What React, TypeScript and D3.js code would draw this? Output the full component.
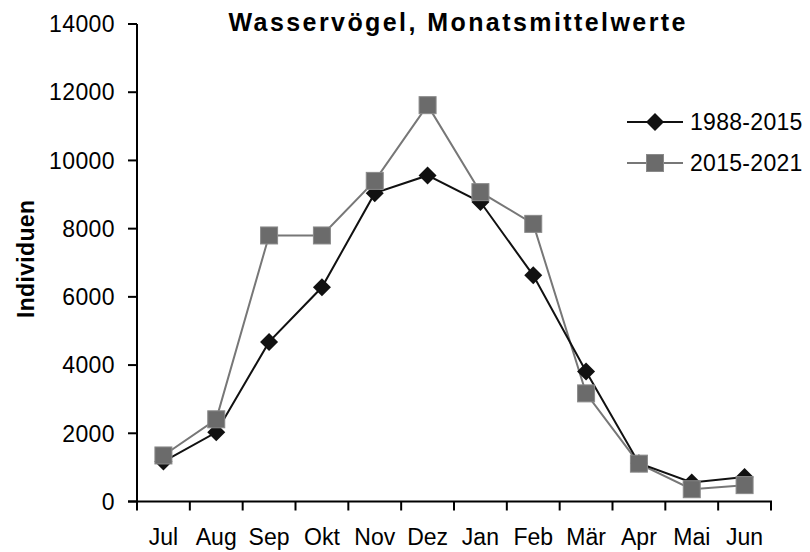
import React from "react";
import * as d3 from "d3";

const months = ["Jul", "Aug", "Sep", "Okt", "Nov", "Dez", "Jan", "Feb", "Mär", "Apr", "Mai", "Jun"];
const series1988 = [1170, 2030, 4680, 6280, 9040, 9560, 8780, 6630, 3810, 1120, 560, 720];
const series2015 = [1350, 2410, 7800, 7800, 9400, 11620, 9070, 8140, 3170, 1110, 360, 480];
const yTicks = [0, 2000, 4000, 6000, 8000, 10000, 12000, 14000];
const seriesNames = ["1988-2015", "2015-2021"];
const title = "Wasservögel, Monatsmittelwerte";
const yTitle = "Individuen";

const W = 810;
const H = 552;
const left = 137;
const right = 771;
const top = 24;
const bottom = 501.5;
const font = "'Liberation Sans', Arial, sans-serif";

export default function App() {
  const x = d3.scaleBand<string>().domain(months).range([left, right]).padding(0);
  const y = d3.scaleLinear().domain([0, 14000]).range([bottom, top]);
  const cx = (m: string) => (x(m) ?? 0) + x.bandwidth() / 2;

  const line = d3
    .line<number>()
    .x((_, i) => cx(months[i]))
    .y((d) => y(d));

  const bounds = [...months.map((m) => x(m) ?? 0), right];
  const diamond = (px: number, py: number, r: number) =>
    `M${px},${py - r}L${px + r},${py}L${px},${py + r}L${px - r},${py}Z`;
  const sq = 8.5;

  return (
    <svg width={W} height={H} style={{ position: "absolute", left: 0, top: 0, background: "#fff" }} fontFamily={font}>
      <text x={457} y={31} textAnchor="middle" fontSize={25} fontWeight="bold" textLength={457} lengthAdjust="spacing">
        {title}
      </text>
      <text
        transform={`translate(34,259) rotate(-90)`}
        textAnchor="middle"
        fontSize={23}
        fontWeight="bold"
        textLength={118}
        lengthAdjust="spacing"
      >
        {yTitle}
      </text>

      {/* y axis */}
      <line x1={left} x2={left} y1={top} y2={bottom} stroke="#000" strokeWidth={2} />
      {yTicks.map((t) => (
        <g key={t}>
          <line x1={128} x2={left} y1={y(t)} y2={y(t)} stroke="#000" strokeWidth={2} />
          <text x={115} y={y(t)} dy="0.36em" textAnchor="end" fontSize={23} letterSpacing={0.4}>
            {t}
          </text>
        </g>
      ))}

      {/* x axis */}
      <line x1={left - 9} x2={right + 1} y1={bottom} y2={bottom} stroke="#000" strokeWidth={2} />
      {bounds.map((b, i) => (
        <line key={i} x1={b} x2={b} y1={bottom} y2={bottom + 9} stroke="#000" strokeWidth={2} />
      ))}
      {months.map((m) => (
        <text key={m} x={cx(m)} y={545} textAnchor="middle" fontSize={23}>
          {m}
        </text>
      ))}

      {/* series 2015-2021 */}
      <path d={line(series2015) ?? ""} fill="none" stroke="#777" strokeWidth={2} />
      {/* series 1988-2015 */}
      <path d={line(series1988) ?? ""} fill="none" stroke="#111" strokeWidth={2} />
      {series1988.map((v, i) => (
        <path key={"d" + i} d={diamond(cx(months[i]), y(v), 9)} fill="#111" />
      ))}
      {series2015.map((v, i) => (
        <rect
          key={"s" + i}
          x={cx(months[i]) - sq}
          y={y(v) - sq}
          width={sq * 2}
          height={sq * 2}
          fill="#6b6b6b"
          stroke="#8a8a8a"
          strokeWidth={1}
        />
      ))}

      {/* legend */}
      <line x1={627} x2={683} y1={122} y2={122} stroke="#111" strokeWidth={2} />
      <path d={diamond(655, 122, 9)} fill="#111" />
      <text x={690} y={122} dy="0.36em" fontSize={23} letterSpacing={0.3}>
        {seriesNames[0]}
      </text>
      <line x1={627} x2={683} y1={163} y2={163} stroke="#777" strokeWidth={2} />
      <rect x={655 - sq} y={163 - sq} width={sq * 2} height={sq * 2} fill="#6b6b6b" stroke="#8a8a8a" strokeWidth={1} />
      <text x={690} y={163} dy="0.36em" fontSize={23} letterSpacing={0.3}>
        {seriesNames[1]}
      </text>
    </svg>
  );
}
